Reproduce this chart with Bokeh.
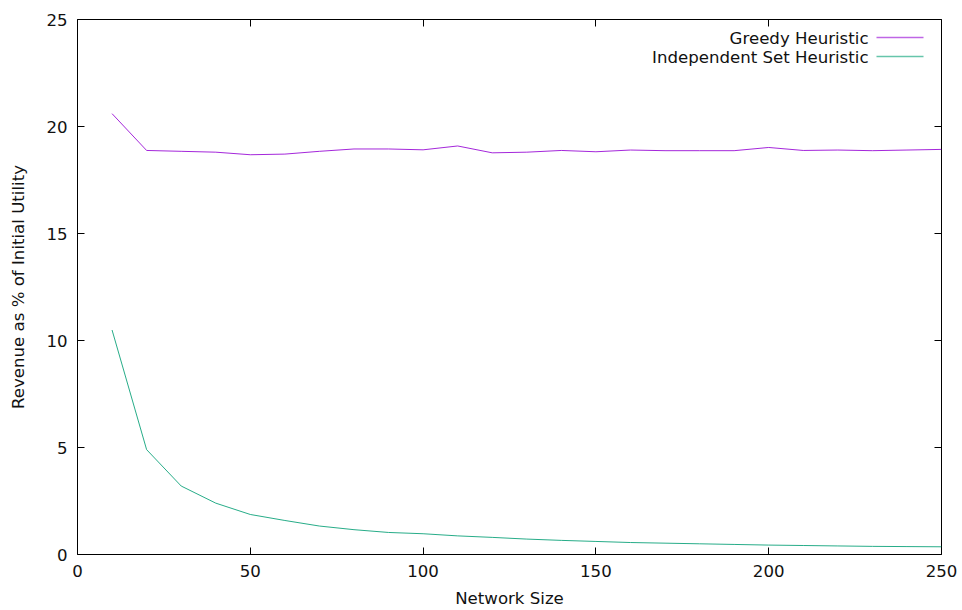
from bokeh.plotting import figure
from bokeh.models import LinearAxis, FixedTicker, Label, Arrow, Range1d
from bokeh.embed import file_html
from bokeh.resources import INLINE

network_size = [10, 20, 30, 40, 50, 60, 70, 80, 90, 100, 110, 120, 130, 140, 150,
                160, 170, 180, 190, 200, 210, 220, 230, 240, 250]
greedy = [20.6, 18.88, 18.84, 18.8, 18.68, 18.71, 18.84, 18.95, 18.95, 18.91, 19.09,
          18.77, 18.8, 18.88, 18.82, 18.9, 18.87, 18.87, 18.87, 19.02, 18.88, 18.9,
          18.87, 18.9, 18.93]
indep = [10.49, 4.9, 3.2, 2.4, 1.87, 1.59, 1.33, 1.16, 1.03, 0.97, 0.87, 0.8, 0.72,
         0.66, 0.61, 0.56, 0.53, 0.5, 0.47, 0.44, 0.42, 0.4, 0.38, 0.37, 0.36]
x_ticks = [0, 50, 100, 150, 200, 250]
y_ticks = [0, 5, 10, 15, 20, 25]
series_names = ["Greedy Heuristic", "Independent Set Heuristic"]
series_colors = ["#9400d3", "#009e73"]

FONT = "DejaVu Sans"
FS = "16.6px"

p = figure(width=962, height=610, output_backend="svg", toolbar_location=None,
           x_range=Range1d(0, 250), y_range=Range1d(0, 25),
           min_border_left=77, min_border_right=21, min_border_top=19, min_border_bottom=56)
p.background_fill_color = "white"
p.border_fill_color = "white"
p.outline_line_color = "#000000"
p.outline_line_width = 1
p.grid.visible = False

for ax, ticks in ((p.xaxis[0], x_ticks), (p.yaxis[0], y_ticks)):
    ax.ticker = FixedTicker(ticks=ticks)
    ax.axis_line_color = None
    ax.major_tick_in = 7
    ax.major_tick_out = 0
    ax.major_tick_line_color = "#000000"
    ax.minor_tick_line_color = None
    ax.major_label_text_font = FONT
    ax.major_label_text_font_size = FS
    ax.major_label_text_color = "#111111"
    ax.axis_label_text_font = FONT
    ax.axis_label_text_font_size = FS
    ax.axis_label_text_font_style = "normal"
    ax.axis_label_text_color = "#111111"

p.xaxis.axis_label = "Network Size"
p.xaxis.major_label_standoff = 10
p.xaxis.axis_label_standoff = 9
p.yaxis.axis_label = "Revenue as % of Initial Utility"
p.yaxis.major_label_standoff = 10
p.yaxis.axis_label_standoff = 15

for loc, ticks in (("right", y_ticks), ("above", x_ticks)):
    a = LinearAxis(ticker=FixedTicker(ticks=ticks),
                   major_label_overrides={t: "" for t in ticks})
    a.axis_line_color = None
    a.major_tick_in = 7
    a.major_tick_out = 0
    a.major_tick_line_color = "#000000"
    a.minor_tick_line_color = None
    a.major_label_standoff = 0
    p.add_layout(a, loc)

p.line(network_size, greedy, line_color=series_colors[0], line_width=1, line_alpha=0.85)
p.line(network_size, indep, line_color=series_colors[1], line_width=1, line_alpha=0.85)

# legend (text right-aligned, sample line to the right), screen units from frame bottom-left
leg_y = [516, 497]
for name, col, yy in zip(series_names, series_colors, leg_y):
    p.add_layout(Label(x=791, y=yy, x_units="screen", y_units="screen", text=name,
                       text_align="right", text_baseline="middle", text_font=FONT,
                       text_font_size=FS, text_color="#111111"))
    p.add_layout(Arrow(x_start=799, x_end=846, y_start=yy + 1, y_end=yy + 1,
                       start_units="screen", end_units="screen", end=None,
                       line_color=col, line_width=1.5, line_alpha=0.6))

open("out.html", "w").write(file_html(p, INLINE))
